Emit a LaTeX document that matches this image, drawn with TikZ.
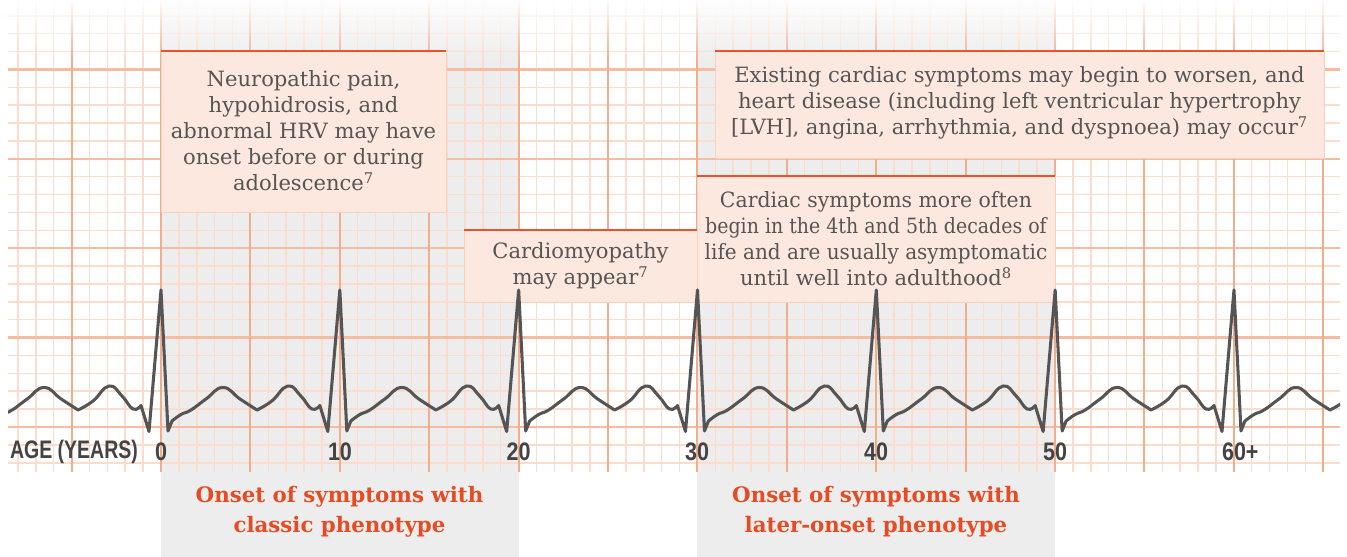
\documentclass[tikz,border=0pt]{standalone}
\usepackage{fontspec}
\setmainfont{DejaVu Serif}
\newfontfamily\axisfont{Liberation Sans}
\definecolor{gridminor}{HTML}{FCDCCB}
\definecolor{gridmajor}{HTML}{F3AD8C}
\definecolor{gridmajorh}{HTML}{F6BCA1}
\definecolor{bandgrey}{HTML}{EDEDED}
\definecolor{boxfill}{HTML}{FCE8DE}
\definecolor{boxedge}{HTML}{F5D2C0}
\definecolor{rulecol}{HTML}{E8532B}
\definecolor{bodytext}{HTML}{555555}
\definecolor{headtext}{HTML}{E64B23}
\definecolor{ecgcol}{HTML}{555555}
\definecolor{axistext}{HTML}{444444}
\newcommand{\agenum}[1]{\scalebox{0.85}[1]{#1}}
\begin{document}
\begin{tikzpicture}[x=0.75pt,y=-0.75pt,
  minorline/.style={gridminor, line width=1.15pt},
  majorline/.style={gridmajor, line width=1.4pt},
  majorhline/.style={gridmajorh, line width=1.8pt},
  infobox/.style={fill=boxfill, draw=boxedge, line width=0.6pt},
  toprule/.style={rulecol, line width=2pt},
  bodytxt/.style={text=bodytext, align=center, font=\fontsize{15.8}{19.5}\selectfont, inner sep=0pt},
  headtxt/.style={text=headtext, align=center, font=\bfseries\fontsize{16}{22.5}\selectfont, inner sep=0pt},
  agetxt/.style={text=axistext, font=\axisfont\bfseries\fontsize{19}{20}\selectfont, inner sep=0pt},
  ecgline/.style={ecgcol, line width=2.3pt, line join=round, line cap=round}
]
\useasboundingbox (0,0) rectangle (1347,557);
\fill[white] (0,0) rectangle (1347,557);
% grey bands
\fill[bandgrey] (161,0) rectangle (518.5,557);
\fill[bandgrey] (697,0) rectangle (1055,557);
% grid minor
\foreach \k in {-8,...,65} {
  \draw[minorline] ({161+17.88*\k},0) -- ({161+17.88*\k},472);
}
\foreach \k in {-2,...,23} {
  \draw[minorline] (8,{427-17.88*\k}) -- (1340,{427-17.88*\k});
}
% grid major
\foreach \k in {0,...,4} {
  \draw[majorhline] (8,{427-89.4*\k}) -- (1340,{427-89.4*\k});
}
\foreach \k in {-1,...,13} {
  \draw[majorline] ({161+89.4*\k},0) -- ({161+89.4*\k},472);
}
% top fade
\foreach \i in {0,...,29} {
  \fill[white, opacity={0.95*(1-\i/30)}] (0,{\i*2}) rectangle (1347,{\i*2+2});
}
% boxes
\path[infobox] (161,51) rectangle (446,212);
\draw[toprule] (161,51) -- (446,51);
\node[bodytxt] (boxA) at (303.5,130.5) {Neuropathic pain,\\hypohidrosis, and\\abnormal HRV may have\\onset before or during\\adolescence\textsuperscript{7}};

\path[infobox] (464,230) rectangle (697,302);
\draw[toprule] (464,230) -- (697,230);
\node[bodytxt] (boxB) at (580.5,265.5) {Cardiomyopathy\\may appear\textsuperscript{7}};

\path[infobox] (697,176) rectangle (1055,302);
\draw[toprule] (697,176) -- (1055,176);
\node[bodytxt] (boxC) at (876,238.5) {\scalebox{0.97}[1]{Cardiac symptoms more often}\\\scalebox{0.9}[1]{begin in the 4th and 5th decades of}\\\scalebox{0.95}[1]{life and are usually asymptomatic}\\until well into adulthood\textsuperscript{8}};

\path[infobox] (715,51) rectangle (1324,158);
\draw[toprule] (715,51) -- (1324,51);
\node[bodytxt] (boxD) at (1019.5,102.5) {Existing cardiac symptoms may begin to worsen, and\\heart disease (including left ventricular hypertrophy\\{[LVH]}, angina, arrhythmia, and dyspnoea) may occur\textsuperscript{7}};

% ECG
\begin{scope}
\clip (8,0) rectangle (1340,557);
\foreach \k in {-1,...,7} {
  \pgfmathsetmacro\s{161+178.83*\k}
  \draw[ecgline] plot[smooth,tension=0.8] coordinates {({\s-83},410) ({\s-68},401) ({\s-52},386) ({\s-39},396) ({\s-28},409) ({\s-20},405.5)}
    -- ({\s-12},431.5) -- (\s,290) -- ({\s+7},431) -- ({\s+11},421)
    -- plot[smooth,tension=0.8] coordinates {({\s+11},421) ({\s+20},414.5) ({\s+30},410) ({\s+45},399) ({\s+62},387.5) ({\s+79},399) ({\s+96},410)};
}
\end{scope}
% axis labels
\node[agetxt] (age) at (74,452) {\scalebox{0.77}[1]{AGE (YEARS)}};
\node[agetxt] (n0) at (161,452) {\agenum{0}};
\node[agetxt] (n10) at (340,452) {\agenum{10}};
\node[agetxt] (n20) at (518.5,452) {\agenum{20}};
\node[agetxt] (n30) at (697,452) {\agenum{30}};
\node[agetxt] (n40) at (876,452) {\agenum{40}};
\node[agetxt] (n50) at (1055,452) {\agenum{50}};
\node[agetxt] (n60) at (1234,452) {\agenum{60\rlap{+}}};
% headings
\node[headtxt] (h1) at (339.5,512) {Onset of symptoms with\\classic phenotype};
\node[headtxt] (h2) at (876,512) {Onset of symptoms with\\later-onset phenotype};
\end{tikzpicture}
\end{document}
